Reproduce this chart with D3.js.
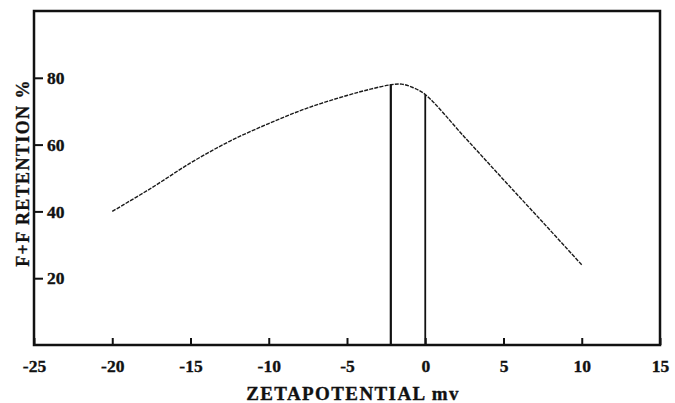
<!DOCTYPE html>
<html>
<head>
<meta charset="utf-8">
<script src="https://cdn.jsdelivr.net/npm/d3@7"></script>
<style>
  html, body { margin: 0; padding: 0; background: #fff; }
  svg { display: block; }
  text { font-family: "Liberation Serif", "Times New Roman", serif; font-weight: bold; fill: #111; stroke: #111; stroke-width: 0.35px; }
</style>
</head>
<body>
<svg id="chart" width="675" height="403"></svg>
<script>
// Retention curve: zeta potential (mV) vs F+F retention (%)
const zeta      = [-20, -17.5, -15, -12.5, -10, -7.5, -5, -3.5, -2.2, -1.5, -0.8, 0, 2.5, 5, 7.5, 10];
const retention = [40, 47, 54.5, 61, 66.3, 71, 74.7, 76.6, 77.9, 78.1, 77.1, 75, 62.3, 49.5, 36.8, 24];

// Vertical markers: zeta position and the retention value they reach
const markerZeta  = [-2.2, 0];
const markerValue = [77.9, 75];

const xTicks = [-25, -20, -15, -10, -5, 0, 5, 10, 15];
const yTicks = [20, 40, 60, 80];

const xTitle = "ZETAPOTENTIAL mv";
const yTitle = "F+F RETENTION %";

const svg = d3.select("#chart");
const plot = { left: 34, right: 660, top: 11, bottom: 345 };

const x = d3.scaleLinear().domain([-25, 15]).range([plot.left, plot.right]);
const y = d3.scaleLinear().domain([0, 100]).range([plot.bottom, plot.top]);

// X axis: inward ticks, labels below (plain hyphen for negatives)
const xAxis = svg.append("g")
  .attr("transform", `translate(0,${plot.bottom})`)
  .call(d3.axisBottom(x).tickValues(xTicks).tickFormat(d => String(d))
        .tickSizeInner(-7).tickSizeOuter(0).tickPadding(15));
xAxis.select(".domain").remove();
xAxis.attr("font-family", null).attr("font-size", 17.5);
xAxis.selectAll("line").attr("stroke", "#111").attr("stroke-width", 2);

// Y axis: inward ticks, labels inside the frame
const yAxis = svg.append("g")
  .attr("transform", `translate(${plot.left},0)`)
  .call(d3.axisRight(y).tickValues(yTicks).tickSizeInner(9).tickSizeOuter(0).tickPadding(4));
yAxis.select(".domain").remove();
yAxis.attr("font-family", null).attr("font-size", 17.5);
yAxis.selectAll("line").attr("stroke", "#111").attr("stroke-width", 2);

// Frame
svg.append("rect")
  .attr("x", plot.left).attr("y", plot.top)
  .attr("width", plot.right - plot.left).attr("height", plot.bottom - plot.top)
  .attr("fill", "none").attr("stroke", "#111").attr("stroke-width", 2.5);

// Vertical markers
const markers = markerZeta.map((z, i) => ({ z, v: markerValue[i] }));
svg.append("g").selectAll("line").data(markers).join("line")
  .attr("x1", d => x(d.z)).attr("x2", d => x(d.z))
  .attr("y1", y(0)).attr("y2", d => y(d.v))
  .attr("stroke", "#111").attr("stroke-width", (d, i) => i === 0 ? 2.2 : 1.8);

// Curve
const pts = zeta.map((z, i) => [z, retention[i]]);
svg.append("path")
  .datum(pts)
  .attr("fill", "none")
  .attr("stroke", "#1a1a1a")
  .attr("stroke-width", 1.4)
  .attr("stroke-dasharray", "4,1.2")
  .attr("d", d3.line().x(d => x(d[0])).y(d => y(d[1])).curve(d3.curveCatmullRom));

// Titles
svg.append("text")
  .attr("x", 353).attr("y", 399.5)
  .attr("text-anchor", "middle").attr("font-size", 19)
  .attr("letter-spacing", 1.4)
  .text(xTitle);

svg.append("text")
  .attr("transform", "translate(28.5,173) rotate(-90)")
  .attr("text-anchor", "middle").attr("font-size", 18)
  .attr("letter-spacing", 1.4)
  .text(yTitle);
</script>
</body>
</html>
